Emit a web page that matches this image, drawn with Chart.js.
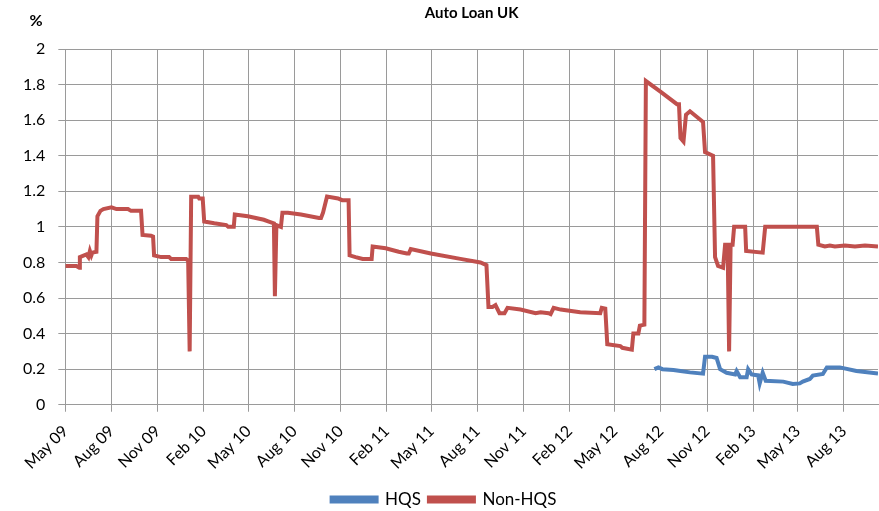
<!DOCTYPE html>
<html lang="en">
  <head>
    <meta charset="UTF-8" />
    <title>Auto Loan UK</title>
    <script src="https://cdn.jsdelivr.net/npm/chart.js@4.4.1/dist/chart.umd.min.js"></script>
  </head>
  <style>
    body {
      margin: 0;
      background-color: #ffffff;
    }

    .chart-container {
      width: 879px;
      height: 511px;
    }
  </style>
  <body>
    <div class="chart-container">
      <canvas id="loanChart"></canvas>
    </div>

    <script>
      // quarterly tick positions on the time axis
      const tickDates = [
        "2009-05-01", "2009-08-01", "2009-11-01", "2010-02-01", "2010-05-01", "2010-08-01",
        "2010-11-01", "2011-02-01", "2011-05-01", "2011-08-01", "2011-11-01", "2012-02-01",
        "2012-05-01", "2012-08-01", "2012-11-01", "2013-02-01", "2013-05-01", "2013-08-01",
      ];
      const tickLabels = [
        "May 09", "Aug 09", "Nov 09", "Feb 10", "May 10", "Aug 10",
        "Nov 10", "Feb 11", "May 11", "Aug 11", "Nov 11", "Feb 12",
        "May 12", "Aug 12", "Nov 12", "Feb 13", "May 13", "Aug 13",
      ];
      const axisStart = "2009-05-01";
      const axisEnd = "2013-10-08";

      // HQS spread (%)
      const hqsDates = [
        "2012-07-19", "2012-07-27", "2012-08-04", "2012-08-26", "2012-09-09", "2012-09-28",
        "2012-10-24", "2012-10-28", "2012-11-11", "2012-11-20", "2012-11-27", "2012-12-10",
        "2012-12-27", "2012-12-30", "2013-01-06", "2013-01-19", "2013-01-22", "2013-01-29",
        "2013-02-11", "2013-02-14", "2013-02-20", "2013-02-26", "2013-04-02", "2013-04-21",
        "2013-05-05", "2013-05-11", "2013-05-25", "2013-05-31", "2013-06-20", "2013-06-28",
        "2013-07-24", "2013-08-26", "2013-10-08",
      ];
      const hqsValues = [
        0.2, 0.21, 0.2, 0.195, 0.19, 0.182,
        0.175, 0.27, 0.27, 0.263, 0.2, 0.18,
        0.17, 0.19, 0.155, 0.155, 0.2, 0.17,
        0.165, 0.12, 0.18, 0.135, 0.13, 0.117,
        0.12, 0.13, 0.145, 0.164, 0.173, 0.21,
        0.21, 0.19, 0.175,
      ];

      // Non-HQS spread (%)
      const nonHqsDates = [
        "2009-05-01", "2009-05-23", "2009-05-29", "2009-05-30", "2009-06-12", "2009-06-16",
        "2009-06-19", "2009-06-22", "2009-06-24", "2009-07-02", "2009-07-04", "2009-07-10",
        "2009-07-16", "2009-08-01", "2009-08-11", "2009-09-03", "2009-09-09", "2009-09-29",
        "2009-10-02", "2009-10-19", "2009-10-23", "2009-10-25", "2009-11-08", "2009-11-24",
        "2009-11-28", "2009-12-28", "2010-01-01", "2010-01-04", "2010-01-07", "2010-01-21",
        "2010-01-23", "2010-01-30", "2010-02-02", "2010-02-22", "2010-03-18", "2010-03-22",
        "2010-04-02", "2010-04-04", "2010-04-30", "2010-06-01", "2010-06-11", "2010-06-21",
        "2010-06-23", "2010-06-26", "2010-07-05", "2010-07-08", "2010-07-19", "2010-08-14",
        "2010-09-19", "2010-09-23", "2010-09-27", "2010-10-05", "2010-10-27", "2010-11-04",
        "2010-11-17", "2010-11-19", "2010-12-01", "2010-12-15", "2011-01-02", "2011-01-04",
        "2011-01-30", "2011-02-25", "2011-03-13", "2011-03-17", "2011-03-21", "2011-04-30",
        "2011-06-28", "2011-08-07", "2011-08-19", "2011-08-23", "2011-08-31", "2011-09-06",
        "2011-09-14", "2011-09-24", "2011-09-30", "2011-10-26", "2011-11-25", "2011-12-05",
        "2011-12-21", "2011-12-25", "2011-12-31", "2012-01-14", "2012-02-22", "2012-04-02",
        "2012-04-05", "2012-04-12", "2012-04-16", "2012-05-12", "2012-05-16", "2012-06-04",
        "2012-06-07", "2012-06-17", "2012-06-20", "2012-06-29", "2012-07-02", "2012-07-31",
        "2012-09-02", "2012-09-06", "2012-09-09", "2012-09-15", "2012-09-20", "2012-09-28",
        "2012-10-24", "2012-10-28", "2012-11-13", "2012-11-17", "2012-11-23", "2012-12-03",
        "2012-12-07", "2012-12-12", "2012-12-15", "2012-12-18", "2012-12-22", "2012-12-25",
        "2013-01-16", "2013-01-18", "2013-02-20", "2013-02-25", "2013-06-08", "2013-06-11",
        "2013-06-24", "2013-07-04", "2013-07-14", "2013-08-03", "2013-08-23", "2013-09-12",
        "2013-10-08",
      ];
      const nonHqsValues = [
        0.78, 0.78, 0.77, 0.83, 0.845, 0.83,
        0.865, 0.84, 0.855, 0.86, 1.06, 1.09,
        1.1, 1.11, 1.1, 1.1, 1.09, 1.09,
        0.955, 0.95, 0.945, 0.84, 0.83, 0.83,
        0.82, 0.82, 0.81, 0.3, 1.17, 1.17,
        1.16, 1.16, 1.03, 1.02, 1.01, 1.0,
        1.0, 1.07, 1.06, 1.04, 1.03, 1.02,
        0.61, 1.01, 1.0, 1.08, 1.08, 1.07,
        1.05, 1.05, 1.08, 1.17, 1.16, 1.15,
        1.15, 0.84, 0.83, 0.82, 0.82, 0.89,
        0.88, 0.86, 0.85, 0.85, 0.875, 0.85,
        0.82, 0.8, 0.785, 0.55, 0.55, 0.56,
        0.515, 0.515, 0.545, 0.535, 0.515, 0.52,
        0.515, 0.51, 0.545, 0.535, 0.52, 0.515,
        0.545, 0.54, 0.34, 0.33, 0.32, 0.31,
        0.4, 0.4, 0.445, 0.45, 1.82, 1.76,
        1.69, 1.69, 1.5, 1.48, 1.63, 1.65,
        1.59, 1.42, 1.4, 0.83, 0.78, 0.77,
        0.9, 0.9, 0.3, 0.9, 0.9, 1.0,
        1.0, 0.865, 0.855, 1.0, 1.0, 0.9,
        0.89, 0.895, 0.89, 0.895, 0.89, 0.895,
        0.89,
      ];

      const MONTHS = ["Jan", "Feb", "Mar", "Apr", "May", "Jun", "Jul", "Aug", "Sep", "Oct", "Nov", "Dec"];
      const toTime = (s) => Date.parse(s + "T00:00:00Z");
      const toPoints = (dates, values) => dates.map((d, i) => ({ x: toTime(d), y: values[i] }));

      const GRID = "#9a9a9a";
      const FONT = "Lato";

      // chart title centred over the plot area, plus the "%" unit above the value axis
      const headerText = {
        id: "headerText",
        afterDraw(chart) {
          const c = chart.ctx;
          const area = chart.chartArea;
          c.save();
          c.fillStyle = "#000";
          c.textAlign = "center";
          c.textBaseline = "middle";
          c.font = "bold 15px " + FONT;
          c.fillText("Auto Loan UK", (area.left + area.right) / 2, 13);
          c.font = "bold 16px " + FONT;
          c.fillText("%", 36, 21);
          c.restore();
        },
      };

      const ctx = document.getElementById("loanChart").getContext("2d");

      new Chart(ctx, {
        type: "line",
        data: {
          datasets: [
            {
              label: "HQS",
              data: toPoints(hqsDates, hqsValues),
              borderColor: "#4f81bd",
              backgroundColor: "#4f81bd",
              borderWidth: 4,
              pointRadius: 0,
              tension: 0,
            },
            {
              label: "Non-HQS",
              data: toPoints(nonHqsDates, nonHqsValues),
              borderColor: "#c0504d",
              backgroundColor: "#c0504d",
              borderWidth: 4,
              pointRadius: 0,
              tension: 0,
            },
          ],
        },
        options: {
          responsive: true,
          maintainAspectRatio: false,
          animation: false,
          layout: {
            padding: { left: 10, right: 1, top: 49, bottom: -7 },
          },
          scales: {
            x: {
              type: "linear",
              min: toTime(axisStart),
              max: toTime(axisEnd),
              afterBuildTicks: (axis) => {
                axis.ticks = tickDates.map((d) => ({ value: toTime(d) }));
              },
              ticks: {
                autoSkip: false,
                minRotation: 45,
                maxRotation: 45,
                padding: 10,
                color: "#000",
                font: { family: FONT, size: 16 },
                callback: (v) => {
                  const i = tickDates.findIndex((d) => toTime(d) === v);
                  if (i >= 0) return tickLabels[i];
                  const dt = new Date(v);
                  return MONTHS[dt.getUTCMonth()] + " " + String(dt.getUTCFullYear()).slice(2);
                },
              },
              grid: { color: GRID, lineWidth: 1, tickLength: 7 },
              border: { color: GRID, width: 1 },
            },
            y: {
              min: 0,
              max: 2,
              ticks: {
                stepSize: 0.2,
                padding: 13,
                color: "#000",
                font: { family: FONT, size: 16 },
                callback: (v) => String(+v.toFixed(1)),
              },
              grid: { color: GRID, lineWidth: 1, tickLength: 7 },
              border: { color: GRID, width: 1 },
            },
          },
          plugins: {
            title: { display: false },
            legend: {
              position: "bottom",
              labels: {
                boxWidth: 45,
                boxHeight: 4,
                padding: 8,
                color: "#000",
                font: { family: FONT, size: 17 },
              },
            },
            tooltip: { enabled: false },
          },
        },
        plugins: [headerText],
      });
    </script>
  </body>
</html>
